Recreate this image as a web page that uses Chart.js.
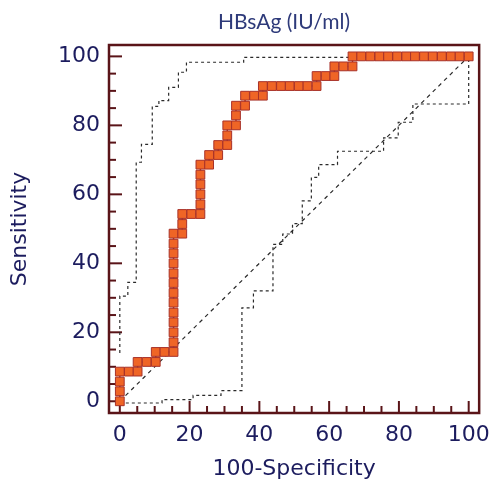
<!DOCTYPE html>
<html><head><meta charset="utf-8">
<script src="https://cdn.jsdelivr.net/npm/chart.js@4/dist/chart.umd.min.js"></script>
<style>html,body{margin:0;padding:0;background:#fff}</style>
</head><body>
<canvas id="c" width="499" height="482"></canvas>
<script>
const TITLE = 'HBsAg (IU/ml)';
const X_TITLE = '100-Specificity';
const Y_TITLE = 'Sensitivity';
const TICKS = [0, 20, 40, 60, 80, 100];
const MINOR_TICKS = [0, 5, 10, 15, 20, 25, 30, 35, 40, 45, 50, 55, 60, 65, 70, 75, 80, 85, 90, 95, 100];

// ROC curve points (100-Specificity, Sensitivity)
const rocX = [0, 0, 0, 0, 2.6, 5.1, 5.1, 7.7, 10.3, 10.3, 12.8, 15.4,
  15.4, 15.4, 15.4, 15.4, 15.4, 15.4, 15.4, 15.4, 15.4, 15.4, 15.4, 15.4,
  17.9, 17.9, 17.9, 20.5, 23.1, 23.1, 23.1, 23.1, 23.1, 23.1,
  25.6, 25.6, 28.2, 28.2, 30.8, 30.8, 30.8, 33.3, 33.3, 33.3, 35.9, 35.9,
  38.5, 41.0, 41.0, 43.6, 46.2, 48.7, 51.3, 53.8, 56.4, 56.4, 59.0, 61.5,
  61.5, 64.1, 66.7, 66.7, 69.2, 71.8, 74.4, 76.9, 79.5, 82.1, 84.6, 87.2,
  89.7, 92.3, 94.9, 97.4, 100];
const rocY = [0, 2.9, 5.7, 8.6, 8.6, 8.6, 11.4, 11.4, 11.4, 14.3, 14.3, 14.3,
  17.1, 20.0, 22.9, 25.7, 28.6, 31.4, 34.3, 37.1, 40.0, 42.9, 45.7, 48.6,
  48.6, 51.4, 54.3, 54.3, 54.3, 57.1, 60.0, 62.9, 65.7, 68.6,
  68.6, 71.4, 71.4, 74.3, 74.3, 77.1, 80.0, 80.0, 82.9, 85.7, 85.7, 88.6,
  88.6, 88.6, 91.4, 91.4, 91.4, 91.4, 91.4, 91.4, 91.4, 94.3, 94.3, 94.3,
  97.1, 97.1, 97.1, 100, 100, 100, 100, 100, 100, 100, 100, 100,
  100, 100, 100, 100, 100];

// Upper 95% confidence bound
const upperX = [0, 0, 2.3, 2.3, 4.7, 4.7, 6.2, 6.2, 9.3, 9.3, 11.2, 11.2, 14, 14, 16.8, 16.8, 19.1, 19.1, 35.5, 35.5, 100];
const upperY = [14, 30.5, 30.5, 34.5, 34.5, 69.3, 69.3, 74.5, 74.5, 85.5, 85.5, 87.2, 87.2, 91, 91, 95.4, 95.4, 98.3, 98.3, 99.7, 99.7];

// Lower 95% confidence bound
const lowerX = [0, 12.1, 12.1, 21, 21, 29, 29, 35, 35, 38.3, 38.3, 43.9, 43.9, 46.7, 46.7, 49.5, 49.5, 52.3, 52.3, 54.9, 54.9, 57, 57, 62.4, 62.4, 75.6, 75.6, 79.8, 79.8, 84, 84, 100, 100];
const lowerY = [-0.5, -0.5, 0.5, 0.5, 1.7, 1.7, 3.1, 3.1, 27.1, 27.1, 32, 32, 45.5, 45.5, 48.5, 48.5, 51.5, 51.5, 58.1, 58.1, 64.9, 64.9, 68.6, 68.6, 72.5, 72.5, 76.4, 76.4, 80.9, 80.9, 86.2, 86.2, 99.3];

// Reference diagonal
const diagX = [0, 100];
const diagY = [0, 100];

const pts = (xs, ys) => xs.map((v, i) => ({x: v, y: ys[i]}));

const FRAME = '#5a1418';
const LABEL = '#1c1c5e';
const DASH = '#2a2a2a';

const frameTicks = {
  id: 'frameTicks',
  beforeDatasetsDraw(chart) {
    const {ctx, chartArea: a, scales: {x, y}} = chart;
    ctx.save();
    ctx.strokeStyle = FRAME;
    ctx.lineWidth = 2;
    MINOR_TICKS.forEach(v => {
      const major = TICKS.includes(v);
      const py = y.getPixelForValue(v);
      ctx.beginPath(); ctx.moveTo(a.left, py); ctx.lineTo(a.left + (major ? 13 : 7), py); ctx.stroke();
      const px = x.getPixelForValue(v);
      ctx.beginPath(); ctx.moveTo(px, a.bottom); ctx.lineTo(px, a.bottom - (major ? 12 : 7)); ctx.stroke();
    });
    ctx.lineWidth = 2.5;
    ctx.strokeRect(a.left, a.top, a.right - a.left, a.bottom - a.top);
    ctx.restore();
  }
};

const titlePlugin = {
  id: 'titlePlugin',
  afterDraw(chart) {
    const {ctx, chartArea: a} = chart;
    ctx.save();
    ctx.font = '21px Lato';
    ctx.fillStyle = '#2e3a7a';
    ctx.textAlign = 'center';
    ctx.textBaseline = 'middle';
    ctx.fillText(TITLE, (a.left + a.right) / 2 - 10, 22);
    ctx.restore();
  }
};

new Chart(document.getElementById('c'), {
  type: 'scatter',
  data: {
    datasets: [
      {
        data: pts(rocX, rocY),
        showLine: true,
        borderColor: '#a8322a',
        borderWidth: 1.5,
        pointStyle: 'rect',
        pointRadius: 6.2,
        pointBackgroundColor: '#ef6526',
        pointBorderColor: '#a8322a',
        pointBorderWidth: 1
      },
      {
        data: pts(upperX, upperY),
        showLine: true, pointRadius: 0,
        borderColor: DASH, borderWidth: 1.2, borderDash: [3, 3]
      },
      {
        data: pts(lowerX, lowerY),
        showLine: true, pointRadius: 0,
        borderColor: DASH, borderWidth: 1.2, borderDash: [3, 3]
      },
      {
        data: pts(diagX, diagY),
        showLine: true, pointRadius: 0,
        borderColor: DASH, borderWidth: 1.2, borderDash: [4, 4]
      }
    ]
  },
  options: {
    responsive: false,
    animation: false,
    layout: {padding: {top: 45, right: 11, left: 0, bottom: 0}},
    plugins: {legend: {display: false}, tooltip: {enabled: false}, title: {display: false}},
    scales: {
      x: {
        type: 'linear', min: -3.1, max: 103,
        afterFit: s => { s.height = 69; },
        afterBuildTicks: s => { s.ticks = TICKS.map(v => ({value: v})); },
        grid: {display: false, drawTicks: false},
        border: {display: false},
        ticks: {color: LABEL, font: {family: 'DejaVu Sans', size: 22}, padding: 9},
        title: {display: true, text: X_TITLE, color: LABEL, font: {family: 'DejaVu Sans', size: 22, lineHeight: 1.2}, padding: {top: 0, bottom: 0}}
      },
      y: {
        type: 'linear', min: -3.4, max: 103.3,
        afterFit: s => { s.width = 109; },
        afterBuildTicks: s => { s.ticks = TICKS.map(v => ({value: v})); },
        grid: {display: false, drawTicks: false},
        border: {display: false},
        ticks: {color: LABEL, font: {family: 'DejaVu Sans', size: 22}, padding: 9},
        title: {display: true, text: Y_TITLE, color: LABEL, font: {family: 'DejaVu Sans', size: 22, lineHeight: 1.2}, padding: {top: 7, bottom: 0}}
      }
    }
  },
  plugins: [frameTicks, titlePlugin]
});
</script>
</body></html>
